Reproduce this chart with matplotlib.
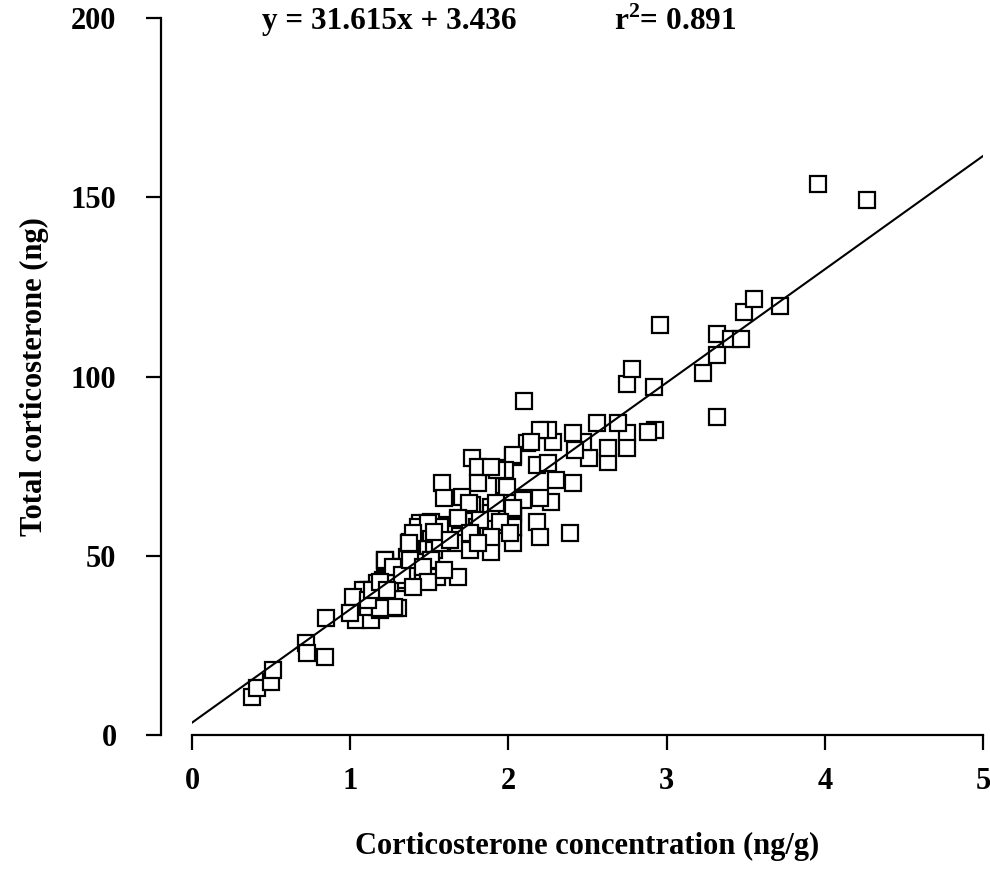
import numpy as np
import matplotlib
matplotlib.use('Agg')
from matplotlib import pyplot as plt

# Corticosterone concentration (ng/g) vs total corticosterone (ng)
conc = [0.38, 0.41, 0.50, 0.51, 0.72, 0.73, 0.84, 0.85,
        1.04, 1.04, 1.13, 1.11, 1.17, 1.30, 1.11, 1.21, 1.22, 1.27, 1.21, 1.30,
        1.34, 1.39, 1.42, 1.49, 1.49, 1.51, 1.57, 1.55,
        1.77, 1.81, 1.93, 2.03, 2.12, 1.58, 1.81, 1.97, 1.59, 1.71, 1.77, 1.89,
        2.09, 2.03, 1.68, 1.80, 1.93, 2.03, 2.03, 1.89, 1.51, 1.59, 1.46, 1.38,
        1.53, 1.68, 1.76, 1.68, 1.51, 1.42, 1.36, 1.22, 1.17, 1.46, 1.55, 1.08,
        1.02, 1.11, 1.19, 1.28, 1.00, 1.25, 1.36, 1.44,
        2.75, 2.92, 3.32, 2.93, 2.88, 2.75, 2.69, 2.56, 2.75, 2.63, 2.63, 2.51,
        2.47, 2.41, 2.42, 2.28, 2.25, 2.20, 2.14, 2.03, 1.98, 1.93, 1.89, 2.18,
        2.25, 2.41, 2.30, 2.27, 2.20, 2.09, 1.99, 2.03, 2.03, 2.18, 2.20, 2.39,
        1.87, 1.89,
        2.10, 2.78, 2.96, 3.23, 3.32, 3.41, 3.47, 3.32, 3.49, 3.55, 3.72, 3.96, 4.27,
        1.22, 1.27, 1.33, 1.38, 1.37, 1.43, 1.51, 1.57, 1.57, 1.51, 1.46, 1.49,
        1.40, 1.28, 1.19, 1.11, 1.14, 1.19, 1.23, 1.59,
        1.75, 1.92, 2.03, 1.68, 1.82, 1.95, 1.49, 1.40, 1.53, 1.63, 1.76, 1.89,
        2.01, 1.37, 1.81]
total = [10.6, 13.1, 14.8, 18.1, 25.7, 22.9, 21.8, 32.6,
         38.2, 32.1, 32.1, 38.5, 35.7, 35.4, 40.4, 41.0, 48.3, 46.9, 43.2, 42.4,
         43.2, 51.6, 46.9, 43.2, 48.3, 57.7, 58.6, 53.8,
         77.3, 74.8, 74.5, 77.5, 81.5, 70.3, 70.3, 69.7, 66.1, 66.4, 64.2, 63.6,
         66.1, 61.9, 60.0, 58.0, 58.6, 57.7, 53.6, 51.0, 59.4, 56.3, 56.3, 53.8,
         51.6, 53.6, 51.6, 44.1, 48.8, 48.3, 45.2, 48.8, 42.4, 43.2, 44.1, 40.4,
         38.5, 35.7, 34.9, 35.4, 34.0, 42.4, 49.7, 59.1,
         97.9, 97.1, 88.7, 85.1, 84.5, 84.2, 87.0, 87.0, 80.1, 76.2, 80.1, 77.3,
         81.7, 84.2, 79.5, 81.7, 85.1, 85.1, 81.7, 78.1, 73.9, 73.9, 74.8, 75.3,
         75.9, 70.3, 71.1, 65.0, 66.1, 65.6, 69.2, 62.8, 58.0, 59.4, 55.2, 56.3,
         58.0, 61.9,
         93.2, 102.0, 114.4, 101.0, 111.9, 110.5, 110.5, 106.0, 117.9, 121.6, 119.8, 153.7, 149.3,
         48.8, 46.9, 44.6, 48.8, 53.6, 58.0, 56.3, 58.0, 53.6, 48.8, 46.9, 42.7,
         41.3, 35.7, 35.4, 37.7, 40.4, 42.7, 40.4, 46.0,
         64.7, 64.7, 63.3, 60.5, 60.0, 59.4, 59.1, 56.3, 56.6, 54.4, 56.3, 55.2,
         56.3, 53.6, 53.6]

# Least-squares fit reported on the chart
slope = 31.615
intercept = 3.436
r_squared = 0.891
x_ticks = [0, 1, 2, 3, 4, 5]
y_ticks = [0, 50, 100, 150, 200]

plt.rcParams['font.family'] = 'Liberation Serif'
plt.rcParams['font.weight'] = 'bold'
plt.rcParams['mathtext.fontset'] = 'custom'
plt.rcParams['mathtext.rm'] = 'Liberation Serif:bold'
plt.rcParams['mathtext.bf'] = 'Liberation Serif:bold'

fig = plt.figure(figsize=(9.9, 8.88), dpi=100)
ax = fig.add_axes([0.1939, 0.1723, 0.799, 0.8074])

# Data points as open squares
ax.plot(conc, total, linestyle='none', marker='s', markersize=12,
        markerfacecolor='white', markeredgecolor='black', markeredgewidth=1.6)

# Regression line
xfit = np.array([0.0, 5.0])
ax.plot(xfit, slope * xfit + intercept, c='k', linewidth=1.5)

ax.set_xlim(0, 5)
ax.set_ylim(0, 200)

# Axis spines: only left and bottom, y axis pushed out to the left
for side in ['top', 'right']:
    ax.spines[side].set_visible(False)
ax.spines['left'].set_position(('outward', 22.3))
ax.spines['left'].set_linewidth(1.6)
ax.spines['bottom'].set_linewidth(1.6)

ax.set_xticks(x_ticks)
ax.set_yticks(y_ticks)
ax.tick_params(axis='both', direction='out', length=11, width=1.6, labelsize=22)
ax.tick_params(axis='x', pad=12)
ax.tick_params(axis='y', pad=21)

ax.set_xlabel('Corticosterone concentration (ng/g)', size=22, weight='bold', labelpad=26)
ax.set_ylabel('Total corticosterone (ng)', size=22, weight='bold', labelpad=16)

# Regression equation and coefficient of determination
ax.text(0.443, 198.9, 'y = %.3fx + %.3f' % (slope, intercept), size=22.5,
        weight='bold', va='center', ha='left')
ax.text(2.67, 198.9, r'r$^{\mathbf{2}}$= %.3f' % r_squared, size=22.5,
        weight='bold', va='center', ha='left')

plt.savefig('out.png', dpi=100)
plt.close(fig)
